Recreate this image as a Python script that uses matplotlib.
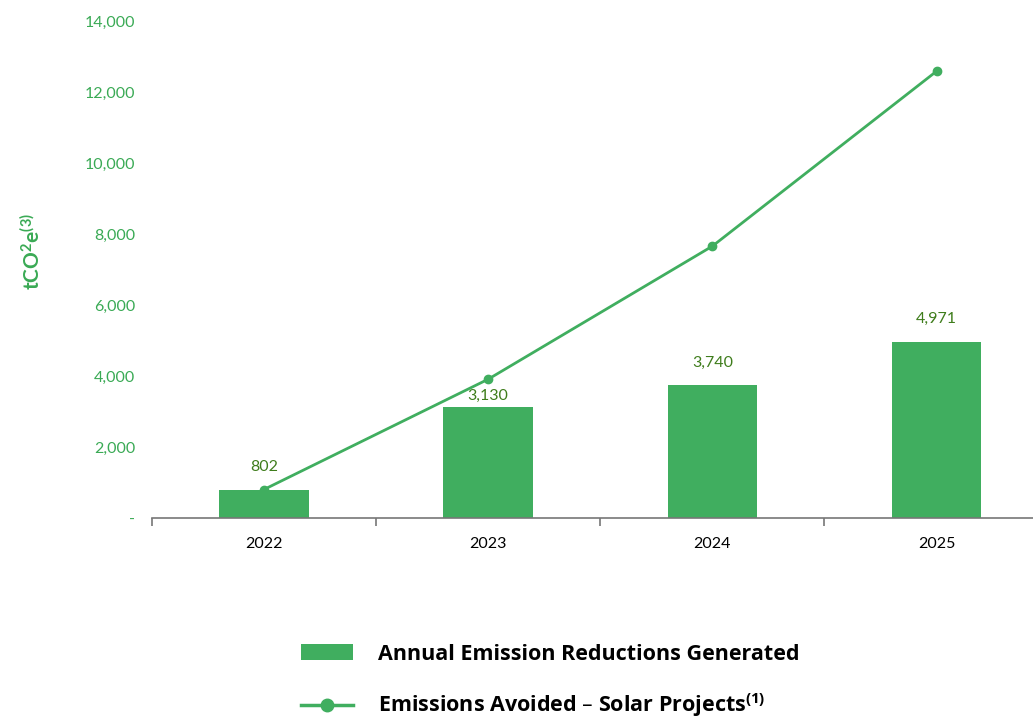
import matplotlib.pyplot as plt
from matplotlib.lines import Line2D
from matplotlib.patches import Patch
import numpy as np

years = ["2022", "2023", "2024", "2025"]
reductions = [802, 3130, 3740, 4971]
avoided = [802, 3910, 7660, 12590]
bar_labels = ["802", "3,130", "3,740", "4,971"]
yticks = [0, 2000, 4000, 6000, 8000, 10000, 12000, 14000]
ytick_labels = ["-", "2,000", "4,000", "6,000", "8,000", "10,000", "12,000", "14,000"]

green = "#40ae5f"
tick_green = "#3aaa55"
label_green = "#3f7d1c"

plt.rcParams["font.family"] = ["Lato", "DejaVu Sans"]

fig = plt.figure(figsize=(10.33, 7.2), dpi=100)
ax = fig.add_axes([0.147, 0.2806, 0.853, 0.69])

x = np.arange(len(years))
ax.bar(x, reductions, width=0.4, color=green, zorder=2)
ax.plot(x, avoided, color=green, lw=2, marker="o", ms=6, zorder=3)

# label offsets in points above bar top (2023 label sits lower, under the line)
offsets = [11, 3, 11, 11]
for xi, v, s, off in zip(x, reductions, bar_labels, offsets):
    ax.annotate(s, (xi, v), xytext=(0, off), textcoords="offset points",
                ha="center", va="bottom", color=label_green, fontsize=11.5)

ax.set_xlim(-0.5, 3.43)
ax.set_ylim(0, 14000)
ax.set_xticks(x)
ax.set_xticklabels(years, fontsize=11.5, color="black")
ax.set_xticks(np.arange(-0.5, 3.5, 1), minor=True)
ax.tick_params(axis="x", which="major", length=0, pad=14)
ax.tick_params(axis="x", which="minor", length=6, color="#777777", width=1.2)
ax.set_yticks(yticks)
ax.set_yticklabels(ytick_labels, fontsize=11.5, color=tick_green)
ax.tick_params(axis="y", length=0, pad=12)

for side in ["top", "right", "left"]:
    ax.spines[side].set_visible(False)
ax.spines["bottom"].set_color("#777777")
ax.spines["bottom"].set_linewidth(1.2)

fig.text(0.031, 0.65, r"tCO$\mathregular{^2}$e$\mathregular{^{(3)}}$", rotation=90,
         ha="center", va="center", color=tick_green, fontsize=15, fontweight="bold")

handles = [Patch(facecolor=green, edgecolor="none"),
           Line2D([0], [0], color=green, lw=2.5, marker="o", ms=9)]
labels = ["Annual Emission Reductions Generated",
          r"Emissions Avoided – Solar Projects$\mathregular{^{(1)}}$"]
leg = fig.legend(handles, labels, loc="upper left", bbox_to_anchor=(0.283, 0.118),
                 frameon=False, prop={"family": "Open Sans", "size": 15.5, "weight": "bold"},
                 handlelength=2.4, handleheight=0.75,
                 handletextpad=1.2, labelspacing=1.25, borderaxespad=0)

fig.savefig("out.png", dpi=100)
